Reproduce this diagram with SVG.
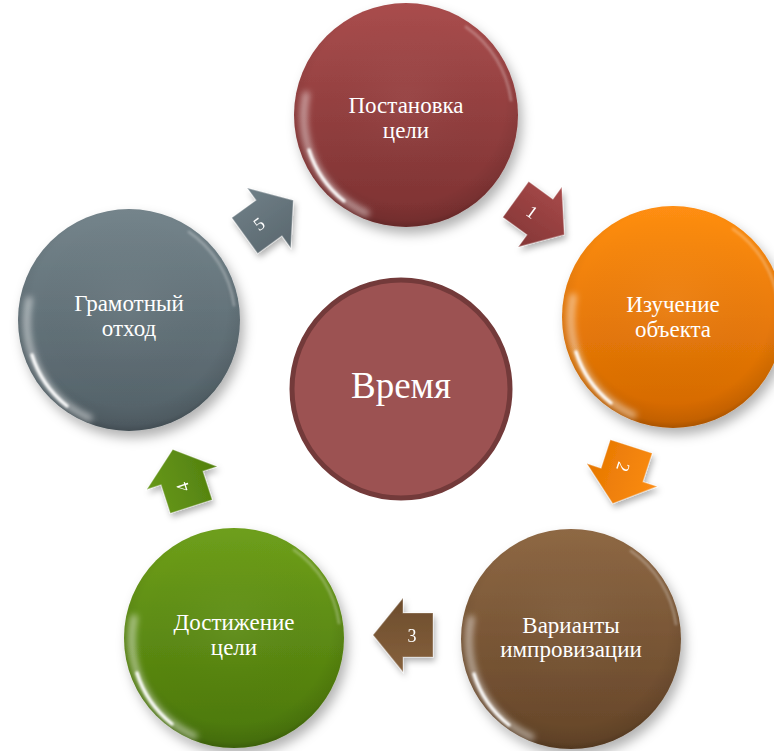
<svg xmlns="http://www.w3.org/2000/svg" width="774" height="751" viewBox="0 0 774 751">
<style>
.lbl{font-family:"Liberation Serif","Times New Roman",serif;font-size:23px;fill:#ffffff;text-anchor:middle}
.big{font-family:"Liberation Serif","Times New Roman",serif;font-size:37px;fill:#ffffff;text-anchor:middle}
.num{font-family:"Liberation Serif","Times New Roman",serif;font-size:18px;fill:#ffffff;text-anchor:middle;dominant-baseline:central}
.arr{stroke:#ffffff;stroke-opacity:0.3;stroke-width:1.2;stroke-linejoin:miter}
.hlw{fill:none;stroke:#ffffff;stroke-linecap:round}
</style>
<defs>
<filter id="sh" x="-30%" y="-30%" width="160%" height="160%">
<feDropShadow dx="4" dy="7" stdDeviation="6" flood-color="#000000" flood-opacity="0.3"/>
</filter>
<filter id="ash" x="-40%" y="-40%" width="180%" height="180%">
<feDropShadow dx="2" dy="4" stdDeviation="3" flood-color="#000000" flood-opacity="0.3"/>
</filter>
<filter id="blur3" x="-30%" y="-30%" width="160%" height="160%"><feGaussianBlur stdDeviation="3"/></filter>
<filter id="blur1" x="-30%" y="-30%" width="160%" height="160%"><feGaussianBlur stdDeviation="1.2"/></filter>
<linearGradient id="gRed" x1="0" y1="0" x2="0" y2="1"><stop offset="0" stop-color="#a94d4d"/><stop offset="1" stop-color="#7c3131"/></linearGradient>
<linearGradient id="gOrg" x1="0" y1="0" x2="0" y2="1"><stop offset="0" stop-color="#ff8e12"/><stop offset="1" stop-color="#d26700"/></linearGradient>
<linearGradient id="gBrn" x1="0" y1="0" x2="0" y2="1"><stop offset="0" stop-color="#8e6844"/><stop offset="1" stop-color="#654528"/></linearGradient>
<linearGradient id="gGrn" x1="0" y1="0" x2="0" y2="1"><stop offset="0" stop-color="#6e9f1b"/><stop offset="1" stop-color="#4a760a"/></linearGradient>
<linearGradient id="gGry" x1="0" y1="0" x2="0" y2="1"><stop offset="0" stop-color="#74848b"/><stop offset="1" stop-color="#526067"/></linearGradient>
<radialGradient id="rim" cx="0.5" cy="0.45" r="0.55">
<stop offset="0" stop-color="#ffffff" stop-opacity="0.04"/>
<stop offset="0.8" stop-color="#000000" stop-opacity="0"/>
<stop offset="0.95" stop-color="#000000" stop-opacity="0.08"/>
<stop offset="1" stop-color="#000000" stop-opacity="0.2"/>
</radialGradient>
<linearGradient id="aRed" x1="0" y1="0" x2="0" y2="1"><stop offset="0" stop-color="#a84a4a"/><stop offset="1" stop-color="#843636"/></linearGradient>
<linearGradient id="aOrg" x1="0" y1="0" x2="0" y2="1"><stop offset="0" stop-color="#fb8c14"/><stop offset="1" stop-color="#e67700"/></linearGradient>
<linearGradient id="aBrn" x1="0" y1="0" x2="0" y2="1"><stop offset="0" stop-color="#86613d"/><stop offset="1" stop-color="#6c4c2c"/></linearGradient>
<linearGradient id="aGrn" x1="0" y1="0" x2="0" y2="1"><stop offset="0" stop-color="#67981a"/><stop offset="1" stop-color="#52800e"/></linearGradient>
<linearGradient id="aGry" x1="0" y1="0" x2="0" y2="1"><stop offset="0" stop-color="#6f7f87"/><stop offset="1" stop-color="#5a676e"/></linearGradient>
<path id="arrowShape" d="M -30 -22 L 0 -22 L 0 -37 L 30 0 L 0 37 L 0 22 L -30 22 Z"/>
<g id="gloss">
<path class="hlw" d="M -40 98 A 106 106 0 0 1 -100 -20" stroke-width="7" stroke-opacity="0.5" filter="url(#blur3)"/>
<path class="hlw" d="M -62 86 A 106 106 0 0 1 -97 35" stroke-width="3.5" stroke-opacity="0.95" filter="url(#blur1)"/>
<path class="hlw" d="M 60 -88 A 107 107 0 0 1 105 -15" stroke-width="3" stroke-opacity="0.25" filter="url(#blur1)"/>
</g>
</defs>
<rect width="774" height="751" fill="#ffffff"/>

<g id="connectors">
<g id="arrow1" filter="url(#ash)">
<use href="#arrowShape" transform="translate(540 217) rotate(36)" fill="url(#aRed)" class="arr"/>
<text class="num" x="532" y="212" transform="rotate(36 532 212)">1</text>
</g>
<g id="arrow2" filter="url(#ash)">
<use href="#arrowShape" transform="translate(622 475) rotate(108)" fill="url(#aOrg)" class="arr"/>
<text class="num" x="623" y="467" transform="rotate(108 623 467)">2</text>
</g>
<g id="arrow3" filter="url(#ash)">
<use href="#arrowShape" transform="translate(403 635) rotate(180)" fill="url(#aBrn)" class="arr"/>
<text class="num" x="412" y="636">3</text>
</g>
<g id="arrow4" filter="url(#ash)">
<use href="#arrowShape" transform="translate(182 478) rotate(252)" fill="url(#aGrn)" class="arr"/>
<text class="num" x="183" y="487" transform="rotate(252 183 487)">4</text>
</g>
<g id="arrow5" filter="url(#ash)">
<use href="#arrowShape" transform="translate(269 218) rotate(324)" fill="url(#aGry)" class="arr"/>
<text class="num" x="259" y="224" transform="rotate(324 259 224)">5</text>
</g>
</g>

<g id="node-top" transform="translate(406 115)">
<circle r="112" fill="url(#gRed)" filter="url(#sh)"/>
<circle r="112" fill="url(#rim)"/>
<use href="#gloss"/>
<text class="lbl" x="0" y="-2">Постановка</text>
<text class="lbl" x="0" y="23">цели</text>
</g>

<g id="node-right" transform="translate(673 317)">
<circle r="111" fill="url(#gOrg)" filter="url(#sh)"/>
<circle r="111" fill="url(#rim)"/>
<use href="#gloss"/>
<text class="lbl" x="0" y="-5">Изучение</text>
<text class="lbl" x="0" y="20">объекта</text>
</g>

<g id="node-bottom-right" transform="translate(571 639)">
<circle r="110" fill="url(#gBrn)" filter="url(#sh)"/>
<circle r="110" fill="url(#rim)"/>
<use href="#gloss"/>
<text class="lbl" x="0" y="-6">Варианты</text>
<text class="lbl" x="0" y="18">импровизации</text>
</g>

<g id="node-bottom-left" transform="translate(234 638)">
<circle r="110" fill="url(#gGrn)" filter="url(#sh)"/>
<circle r="110" fill="url(#rim)"/>
<use href="#gloss"/>
<text class="lbl" x="0" y="-8">Достижение</text>
<text class="lbl" x="0" y="17">цели</text>
</g>

<g id="node-left" transform="translate(129 320)">
<circle r="111" fill="url(#gGry)" filter="url(#sh)"/>
<circle r="111" fill="url(#rim)"/>
<use href="#gloss"/>
<text class="lbl" x="0" y="-9">Грамотный</text>
<text class="lbl" x="0" y="16">отход</text>
</g>

<g id="node-center">
<circle cx="401" cy="389" r="109" fill="#9c5252" stroke="#733a3a" stroke-width="5"/>
<text class="big" x="401" y="398">Время</text>
</g>
</svg>
